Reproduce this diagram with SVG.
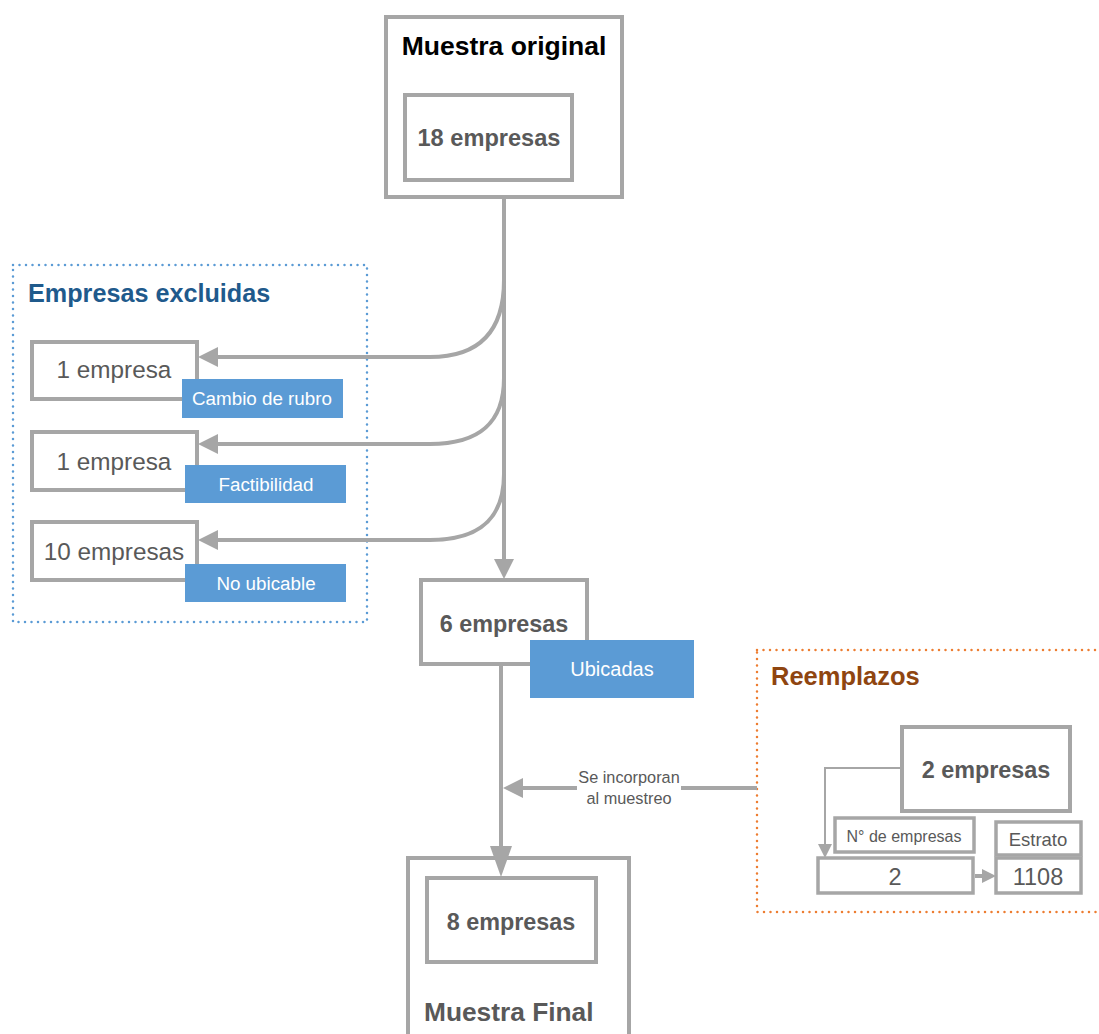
<svg xmlns="http://www.w3.org/2000/svg" width="1099" height="1034" viewBox="0 0 1099 1034">
<style>
.box{fill:#fff;stroke:#a6a6a6;stroke-width:4}
.sbox{fill:#fff;stroke:#a6a6a6;stroke-width:3.5}
.lbl{fill:#5b9bd5}
.t{font-family:"Liberation Sans",Arial,sans-serif;fill:#595959}
.b{font-weight:bold}
.w{fill:#fff}
.c{text-anchor:middle}
.conn{fill:none;stroke:#a6a6a6;stroke-width:4}
.thin{fill:none;stroke:#a6a6a6;stroke-width:2}
</style>
<defs>
<marker id="arr" viewBox="0 0 20 20" refX="0" refY="10" markerWidth="20" markerHeight="20" markerUnits="userSpaceOnUse" orient="auto">
<path d="M0,0 L20,10 L0,20 z" fill="#a6a6a6"/>
</marker>
<marker id="arrL" viewBox="0 0 31 22" refX="0" refY="11" markerWidth="31" markerHeight="22" markerUnits="userSpaceOnUse" orient="auto">
<path d="M0,0 L31,11 L0,22 z" fill="#a6a6a6"/>
</marker>
<marker id="arrS" viewBox="0 0 14 14" refX="0" refY="7" markerWidth="14" markerHeight="14" markerUnits="userSpaceOnUse" orient="auto">
<path d="M0,0 L14,7 L0,14 z" fill="#a6a6a6"/>
</marker>
</defs>

<g id="excluded-group">
<rect x="13" y="265" width="354" height="357" fill="none" stroke="#5b9bd5" stroke-width="2.5" stroke-dasharray="0 6.5" stroke-linecap="round"/>
<text class="t b" x="28" y="302" font-size="25.2" style="fill:#1f5a8c">Empresas excluidas</text>
</g>

<g id="replacements-group">
<rect x="757" y="650" width="360" height="262" fill="none" stroke="#ed7d31" stroke-width="2.5" stroke-dasharray="0 6.5" stroke-linecap="round"/>
<text class="t b" x="771" y="685" font-size="25.5" style="fill:#8f4510">Reemplazos</text>
</g>

<g id="muestra-original">
<rect class="box" x="386" y="17" width="236" height="180"/>
<text class="t b c" x="504" y="55" font-size="26.5" style="fill:#000">Muestra original</text>
<rect class="box" x="405" y="95" width="167" height="85"/>
<text class="t b c" x="489" y="146" font-size="23.6">18 empresas</text>
</g>

<g id="excl-cambio">
<rect class="box" x="32" y="342" width="165" height="57"/>
<text class="t c" x="114" y="378" font-size="24.3">1 empresa</text>
<rect class="lbl" x="182" y="379" width="161" height="39"/>
<text class="t w c" x="262" y="405" font-size="18.8">Cambio de rubro</text>
</g>

<g id="excl-factibilidad">
<rect class="box" x="32" y="432" width="165" height="58"/>
<text class="t c" x="114" y="470" font-size="24.3">1 empresa</text>
<rect class="lbl" x="185" y="465" width="161" height="38"/>
<text class="t w c" x="266" y="491" font-size="18.8">Factibilidad</text>
</g>

<g id="excl-noubicable">
<rect class="box" x="32" y="522" width="165" height="58"/>
<text class="t c" x="114" y="560" font-size="24.3">10 empresas</text>
<rect class="lbl" x="185" y="564" width="161" height="38"/>
<text class="t w c" x="266" y="590" font-size="18.8">No ubicable</text>
</g>

<g id="ubicadas">
<rect class="box" x="421" y="580" width="166" height="84"/>
<text class="t b c" x="504" y="632" font-size="23.4">6 empresas</text>
<rect class="lbl" x="530" y="640" width="164" height="58"/>
<text class="t w c" x="612" y="676" font-size="20">Ubicadas</text>
</g>

<g id="reemplazo-2">
<rect class="box" x="902" y="727" width="168" height="84"/>
<text class="t b c" x="986" y="778" font-size="23.4">2 empresas</text>
</g>

<g id="n-empresas">
<rect class="sbox" x="835" y="818" width="139" height="34"/>
<text class="t c" x="904" y="842" font-size="16">N° de empresas</text>
<rect class="sbox" x="818" y="858" width="155" height="35"/>
<text class="t c" x="895" y="885" font-size="23.5">2</text>
</g>

<g id="estrato">
<rect class="sbox" x="996" y="822" width="85" height="33"/>
<text class="t c" x="1038" y="846" font-size="18.5">Estrato</text>
<rect class="sbox" x="996" y="858" width="85" height="35"/>
<text class="t c" x="1038" y="885" font-size="23.5">1108</text>
</g>

<g id="muestra-final">
<rect class="box" x="408" y="858" width="221" height="200"/>
<rect class="box" x="427" y="878" width="169" height="84"/>
<text class="t b c" x="511" y="930" font-size="23.4">8 empresas</text>
<text class="t b" x="424" y="1021" font-size="26.3">Muestra Final</text>
</g>

<g id="connectors">
<path class="conn" d="M504,199 L504,559" marker-end="url(#arr)"/>
<path class="conn" d="M504,280 C504,333 478,357 430,357 L218,357" marker-end="url(#arr)"/>
<path class="conn" d="M504,378 C504,424 478,444 430,444 L218,444" marker-end="url(#arr)"/>
<path class="conn" d="M504,474 C504,520 478,540 430,540 L218,540" marker-end="url(#arr)"/>
<path class="conn" d="M501,666 L501,846" marker-end="url(#arrL)"/>
<path class="conn" d="M757,788 L681,788"/>
<path class="conn" d="M577,788 L523,788" marker-end="url(#arr)"/>
<path class="thin" d="M900,768 L825,768 L825,844" marker-end="url(#arrS)"/>
<path class="conn" d="M975,876 L982,876" marker-end="url(#arrS)"/>
<text class="t c" x="629" y="783" font-size="16.3">Se incorporan</text>
<text class="t c" x="629" y="804" font-size="16.3">al muestreo</text>
</g>
</svg>
